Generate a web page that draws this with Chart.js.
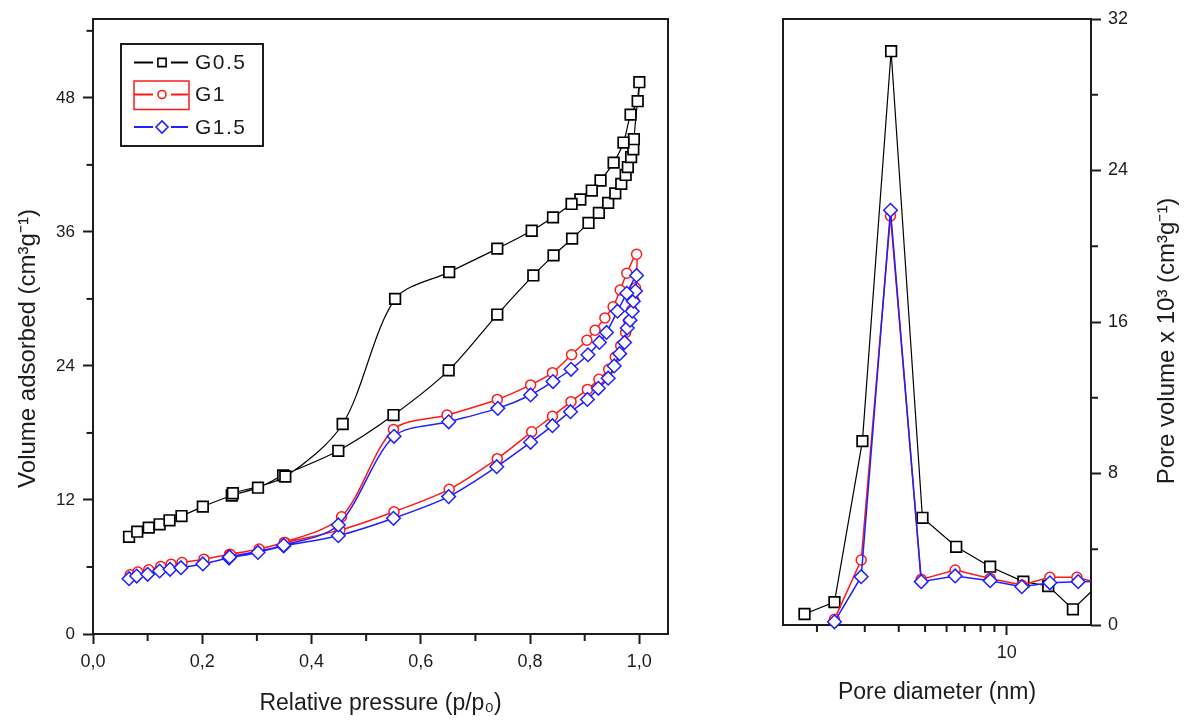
<!DOCTYPE html>
<html><head><meta charset="utf-8">
<script src="https://cdn.jsdelivr.net/npm/chart.js@4.4.1/dist/chart.umd.min.js"></script>
<style>
html,body{margin:0;padding:0;background:#fff;width:1185px;height:720px;overflow:hidden;}
#c1{position:absolute;left:0;top:0;}
#c2{position:absolute;left:700px;top:0;}
</style></head><body>
<canvas id="c1" width="700" height="720"></canvas>
<canvas id="c2" width="485" height="720"></canvas>
<script>
// ---------- data ----------
const seriesNames = ['G0.5', 'G1', 'G1.5'];

// Left panel: N2 isotherms (adsorption branch, then desorption branch)
const isoXTicks = [0, 0.2, 0.4, 0.6, 0.8, 1.0];
const isoXTickLabels = ['0,0', '0,2', '0,4', '0,6', '0,8', '1,0'];
const isoXMinor = [0.1, 0.3, 0.5, 0.7, 0.9];
const isoYTicks = [0, 12, 24, 36, 48];
const isoYTickLabels = ['0', '12', '24', '36', '48'];
const isoYMinor = [6, 18, 30, 42, 54];

const g05P = [0.066,0.081,0.102,0.122,0.140,0.162,0.201,0.254,0.302,0.348,0.449,0.550,0.651,0.740,0.806,0.843,0.877,0.907,0.926,0.943,0.956,0.967,0.975,0.979,0.985,0.989,0.990,1.000,
              0.997,0.984,0.971,0.953,0.929,0.913,0.892,0.876,0.842,0.803,0.740,0.652,0.553,0.457,0.352,0.256];
const g05V = [8.7,9.16,9.52,9.82,10.18,10.56,11.4,12.4,13.1,14.2,16.4,19.6,23.6,28.6,32.1,33.9,35.4,36.8,37.7,38.6,39.45,40.3,41.1,41.8,42.7,43.4,44.3,49.4,
              47.7,46.5,44.0,42.2,40.6,39.7,38.9,38.5,37.3,36.1,34.5,32.4,30.0,18.8,14.1,12.6];

const g1P = [0.068,0.082,0.102,0.124,0.143,0.163,0.203,0.250,0.304,0.351,0.452,0.551,0.652,0.740,0.803,0.841,0.875,0.905,0.926,0.944,0.956,0.966,0.975,0.981,0.986,0.990,0.993,0.995,
             0.977,0.965,0.952,0.937,0.919,0.904,0.876,0.841,0.801,0.740,0.648,0.550,0.455,0.350,0.252];
const g1V = [5.3,5.55,5.75,6.05,6.25,6.4,6.7,7.15,7.6,8.2,9.3,10.95,12.95,15.7,18.1,19.5,20.8,21.9,22.8,23.7,24.8,25.8,27.0,28.0,29.0,29.9,31.0,34.0,
             32.3,30.8,29.3,28.3,27.2,26.3,25.0,23.4,22.3,21.0,19.6,18.3,10.5,8.2,7.1];

const g15P = [0.066,0.080,0.100,0.122,0.141,0.161,0.201,0.249,0.302,0.349,0.449,0.550,0.651,0.739,0.801,0.841,0.874,0.905,0.925,0.943,0.954,0.964,0.973,0.978,0.983,0.987,0.989,0.993,
              0.995,0.977,0.960,0.940,0.927,0.906,0.875,0.842,0.801,0.741,0.651,0.551,0.449,0.349,0.250];
const g15V = [4.95,5.19,5.34,5.64,5.79,5.94,6.27,6.8,7.3,7.88,8.8,10.36,12.3,14.98,17.16,18.65,19.9,21.0,22.0,22.9,24.0,25.1,26.1,27.4,28.1,28.9,29.8,30.7,
              32.1,30.5,28.9,27.0,26.1,25.0,23.7,22.6,21.4,20.2,19.0,17.7,9.76,7.95,6.9];

// Right panel: pore size distribution
const psdXTicks = [10];
const psdXTickLabels = ['10'];
const psdXMinor = [2, 3, 4, 5, 6, 7, 8, 9];
const psdYTicks = [0, 8, 16, 24, 32];
const psdYTickLabels = ['0', '8', '16', '24', '32'];
const psdYMinor = [4, 12, 20, 28];

const psdG05D = [1.80, 2.32, 2.94, 3.75, 4.89, 6.51, 8.68, 11.5, 14.2, 17.5, 22];
const psdG05V = [0.58, 1.21, 9.71, 30.3, 5.66, 4.13, 3.08, 2.29, 2.06, 0.83, 2.2];
const psdG1D  = [2.32, 2.91, 3.73, 4.84, 6.45, 8.68, 11.35, 14.4, 18.1, 22];
const psdG1V  = [0.30, 3.43, 21.6, 2.41, 2.90, 2.46, 2.11, 2.52, 2.52, 2.2];
const psdG15D = [2.32, 2.91, 3.73, 4.84, 6.45, 8.68, 11.35, 14.4, 18.3, 22];
const psdG15V = [0.17, 2.55, 21.9, 2.29, 2.59, 2.34, 2.02, 2.23, 2.29, 2.3];

// ---------- styles ----------
const FONT = '"Liberation Sans", Arial, Helvetica, sans-serif';
const AX = '#1c1c1c';
const styles = [
  {color: '#000000', pointStyle: 'rect',    radius: 7.5, lineWidth: 1.2, pointBorder: 1.7},
  {color: '#ff1a1a', pointStyle: 'circle',  radius: 5,   lineWidth: 1.5, pointBorder: 1.5},
  {color: '#1f1fff', pointStyle: 'rectRot', radius: 6.8, lineWidth: 1.5, pointBorder: 1.5}
];
const drawOrder = [2, 1, 0];

Chart.defaults.font.family = FONT;
Chart.defaults.color = AX;

const pts = (xs, ys) => xs.map((x, i) => ({x: x, y: ys[i]}));

function makeDataset(i, xs, ys, tension, clip) {
  const s = styles[i];
  return {
    label: seriesNames[i],
    data: pts(xs, ys),
    showLine: true,
    borderColor: s.color,
    borderWidth: s.lineWidth,
    tension: tension,
    pointStyle: s.pointStyle,
    pointRadius: s.radius,
    pointHoverRadius: s.radius,
    pointBorderWidth: s.pointBorder,
    pointBorderColor: s.color,
    pointBackgroundColor: '#ffffff',
    order: drawOrder[i],
    clip: clip
  };
}

// frame + minor ticks
const framePlugin = {
  id: 'frame',
  beforeDatasetsDraw(chart, args, opts) {
    const {left, right, top, bottom} = chart.chartArea;
    const ctx = chart.ctx;
    ctx.save();
    ctx.strokeStyle = AX;
    ctx.lineWidth = 2;
    ctx.strokeRect(left, top, right - left, bottom - top);
    const minor = opts.minor || {};
    for (const id in minor) {
      const sc = chart.scales[id];
      for (const v of minor[id]) {
        const p = sc.getPixelForValue(v);
        ctx.beginPath();
        if (sc.isHorizontal()) { ctx.moveTo(p, bottom); ctx.lineTo(p, bottom + 7); }
        else if (sc.position === 'right') { ctx.moveTo(right, p); ctx.lineTo(right + 7, p); }
        else { ctx.moveTo(left, p); ctx.lineTo(left - 6.5, p); }
        ctx.stroke();
      }
    }
    ctx.restore();
  }
};

// rotated y-axis title (reads bottom to top)
const yTitlePlugin = {
  id: 'yTitle',
  afterDraw(chart, args, opts) {
    if (!opts.text) return;
    const ctx = chart.ctx;
    const ca = chart.chartArea;
    const x = opts.side === 'right' ? ca.right + opts.dx : ca.left - opts.dx;
    const y = (ca.top + ca.bottom) / 2 + opts.dy;
    ctx.save();
    ctx.translate(x, y);
    ctx.rotate(-Math.PI / 2);
    ctx.font = opts.size + 'px ' + FONT;
    ctx.fillStyle = AX;
    ctx.textAlign = 'center';
    ctx.textBaseline = 'middle';
    ctx.fillText(opts.text, 0, 0);
    ctx.restore();
  }
};

// boxed legend inside the isotherm panel
const legendPlugin = {
  id: 'boxLegend',
  afterDraw(chart, args, opts) {
    if (!opts.show) return;
    const ctx = chart.ctx;
    const ca = chart.chartArea;
    const bx = ca.left + 28, by = ca.top + 25, bw = 142, bh = 102;
    ctx.save();
    ctx.strokeStyle = AX;
    ctx.lineWidth = 2;
    ctx.strokeRect(bx, by, bw, bh);
    const rowY = [by + 18.5, by + 50.5, by + 83];
    const symX = bx + 41;
    for (let i = 0; i < seriesNames.length; i++) {
      const s = styles[i];
      const y = rowY[i];
      ctx.strokeStyle = s.color;
      ctx.lineWidth = 2;
      ctx.beginPath();
      ctx.moveTo(bx + 13, y); ctx.lineTo(symX - 9, y);
      ctx.moveTo(symX + 9, y); ctx.lineTo(bx + 67, y);
      ctx.stroke();
      if (i === 1) {
        ctx.lineWidth = 1.5;
        ctx.strokeRect(bx + 13, y - 13.5, 55, 28.5);
      }
      ctx.fillStyle = '#ffffff';
      ctx.lineWidth = 1.6;
      const r = i === 0 ? 5.8 : (i === 1 ? 4 : 6);
      Chart.helpers.drawPoint(ctx, {pointStyle: s.pointStyle, radius: r, rotation: 0, borderWidth: 1.6}, symX, y);
      ctx.fillStyle = AX;
      ctx.font = '21px ' + FONT;
      ctx.textAlign = 'left';
      ctx.textBaseline = 'middle';
      try { ctx.letterSpacing = '1.5px'; } catch (e) {}
      ctx.fillText(seriesNames[i], bx + 74, y + 1);
      try { ctx.letterSpacing = '0px'; } catch (e) {}
    }
    ctx.restore();
  }
};

const gridTicks = {display: true, drawOnChartArea: false, drawTicks: true, tickLength: 10, tickColor: AX, tickWidth: 2};

// ---------- chart 1: isotherms ----------
new Chart(document.getElementById('c1'), {
  type: 'scatter',
  data: {
    datasets: [
      makeDataset(0, g05P, g05V, 0.3, false),
      makeDataset(1, g1P, g1V, 0.3, false),
      makeDataset(2, g15P, g15V, 0.3, false)
    ]
  },
  options: {
    responsive: false,
    animation: false,
    devicePixelRatio: 1,
    layout: {padding: {top: 19, right: 32, left: 0, bottom: 0}},
    plugins: {
      legend: {display: false},
      tooltip: {enabled: false},
      frame: {minor: {x: isoXMinor, y: isoYMinor}},
      yTitle: {text: 'Volume adsorbed (cm³g⁻¹)', side: 'left', dx: 65, dy: 22, size: 24},
      boxLegend: {show: true}
    },
    scales: {
      x: {
        type: 'linear', min: 0, max: 1.0525,
        afterBuildTicks: s => { s.ticks = isoXTicks.map(v => ({value: v})); },
        afterFit: s => { s.height = 86; },
        ticks: {autoSkip: false, maxRotation: 0, padding: 7, color: AX, font: {size: 18},
                callback: (v, i) => isoXTickLabels[i]},
        grid: gridTicks,
        border: {display: false},
        title: {display: true, text: 'Relative pressure (p/p₀)', color: AX, font: {size: 23}, padding: {top: 0, bottom: 3}}
      },
      y: {
        type: 'linear', min: 0, max: 55.06,
        afterBuildTicks: s => { s.ticks = isoYTicks.map(v => ({value: v})); },
        afterFit: s => { s.width = 93; },
        ticks: {autoSkip: false, padding: 8, color: AX, font: {size: 17},
                callback: (v, i) => isoYTickLabels[i]},
        grid: gridTicks,
        border: {display: false}
      }
    }
  },
  plugins: [framePlugin, yTitlePlugin, legendPlugin]
});

// ---------- chart 2: pore size distribution ----------
const psdClip = {left: 12, top: 12, right: 0, bottom: 12};
new Chart(document.getElementById('c2'), {
  type: 'scatter',
  data: {
    datasets: [
      makeDataset(0, psdG05D, psdG05V, 0, psdClip),
      makeDataset(1, psdG1D, psdG1V, 0, psdClip),
      makeDataset(2, psdG15D, psdG15V, 0, psdClip)
    ]
  },
  options: {
    responsive: false,
    animation: false,
    devicePixelRatio: 1,
    layout: {padding: {top: 19, right: 0, left: 83, bottom: 0}},
    plugins: {
      legend: {display: false},
      tooltip: {enabled: false},
      frame: {minor: {x: psdXMinor, y: psdYMinor}},
      yTitle: {text: 'Pore volume x 10³ (cm³g⁻¹)', side: 'right', dx: 76, dy: 19, size: 24},
      boxLegend: {show: false}
    },
    scales: {
      x: {
        type: 'logarithmic', min: 1.5, max: 20.4,
        afterBuildTicks: s => { s.ticks = psdXTicks.map(v => ({value: v})); },
        afterFit: s => { s.height = 95; },
        ticks: {autoSkip: false, maxRotation: 0, padding: 7, color: AX, font: {size: 18},
                callback: (v, i) => psdXTickLabels[i]},
        grid: gridTicks,
        border: {display: false},
        title: {display: true, text: 'Pore diameter (nm)', color: AX, font: {size: 23}, padding: {top: 0, bottom: 14}}
      },
      y: {
        type: 'linear', position: 'right', min: 0, max: 32,
        afterBuildTicks: s => { s.ticks = psdYTicks.map(v => ({value: v})); },
        afterFit: s => { s.width = 94; },
        ticks: {autoSkip: false, padding: 7, color: AX, font: {size: 18},
                callback: (v, i) => psdYTickLabels[i]},
        grid: gridTicks,
        border: {display: false}
      }
    }
  },
  plugins: [framePlugin, yTitlePlugin, legendPlugin]
});
</script>
</body></html>
